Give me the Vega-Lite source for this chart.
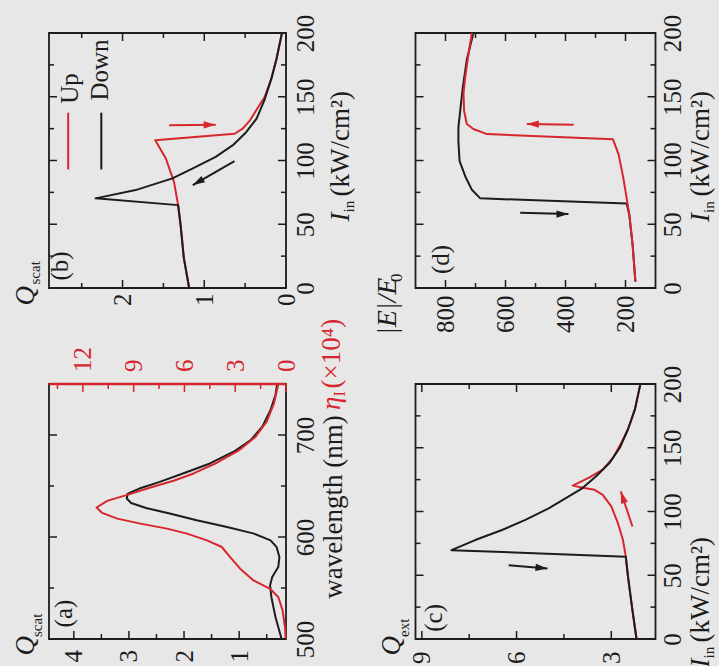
{
"$schema": "https://vega.github.io/schema/vega-lite/v6.json",
"background": "#e7e7e7",
"padding": {"left": 10, "top": 13, "right": 4, "bottom": 0},
"config": {
 "view": {"stroke": "#1c1c1c", "strokeWidth": 1.8},
 "axis": {"grid": false, "domain": false, "ticks": false, "labelFont": "Liberation Serif", "labelFontSize": 25, "labelColor": "#1c1c1c", "labelOverlap": false, "labelFlush": false, "labelBound": false, "titleFont": "Liberation Serif", "titleFontSize": 27, "titleFontWeight": "normal", "titleColor": "#1c1c1c", "titleAngle": -90, "titleAlign": "left", "titleBaseline": "alphabetic", "titlePadding": 0, "labelAngle": -90},
 "point": {"opacity": 1},
 "text": {"font": "Liberation Serif"}
},
"datasets": {
 "t_I": [{"v":0,"c":"maj"},{"v":25,"c":"min"},{"v":50,"c":"maj"},{"v":75,"c":"min"},{"v":100,"c":"maj"},{"v":125,"c":"min"},{"v":150,"c":"maj"},{"v":175,"c":"min"},{"v":200,"c":"maj"}],
 "b_tq": [{"v":0,"c":"maj"},{"v":0.5,"c":"min"},{"v":1,"c":"maj"},{"v":1.5,"c":"min"},{"v":2,"c":"maj"},{"v":2.5,"c":"min"}],
 "d_tE": [{"v":200,"c":"maj"},{"v":300,"c":"min"},{"v":400,"c":"maj"},{"v":500,"c":"min"},{"v":600,"c":"maj"},{"v":700,"c":"min"},{"v":800,"c":"maj"}],
 "a_tq": [{"v":0.5,"c":"min"},{"v":1,"c":"maj"},{"v":1.5,"c":"min"},{"v":2,"c":"maj"},{"v":2.5,"c":"min"},{"v":3,"c":"maj"},{"v":3.5,"c":"min"},{"v":4,"c":"maj"}],
 "a_tl": [{"v":500,"c":"maj"},{"v":550,"c":"min"},{"v":600,"c":"maj"},{"v":650,"c":"min"},{"v":700,"c":"maj"},{"v":750,"c":"min"}],
 "a_te": [{"v":0,"c":"maj"},{"v":1.5,"c":"min"},{"v":3,"c":"maj"},{"v":4.5,"c":"min"},{"v":6,"c":"maj"},{"v":7.5,"c":"min"},{"v":9,"c":"maj"},{"v":10.5,"c":"min"},{"v":12,"c":"maj"},{"v":13.5,"c":"min"}],
 "c_tq": [{"v":3,"c":"maj"},{"v":4.5,"c":"min"},{"v":6,"c":"maj"},{"v":7.5,"c":"min"},{"v":9,"c":"maj"}],
 "b_curves": [
  {"s":"Up","k":1,"Q":1.185,"I":0},{"s":"Up","k":2,"Q":1.25,"I":23.4},{"s":"Up","k":3,"Q":1.29,"I":49.5},{"s":"Up","k":4,"Q":1.32,"I":65},{"s":"Up","k":5,"Q":1.37,"I":83},{"s":"Up","k":6,"Q":1.47,"I":101.6},{"s":"Up","k":7,"Q":1.6,"I":115.9},{"s":"Up","k":8,"Q":0.63,"I":121},{"s":"Up","k":9,"Q":0.53,"I":125},{"s":"Up","k":10,"Q":0.44,"I":131.5},{"s":"Up","k":11,"Q":0.33,"I":143},{"s":"Up","k":12,"Q":0.26,"I":150},{"s":"Up","k":13,"Q":0.18,"I":164},{"s":"Up","k":14,"Q":0.115,"I":180},{"s":"Up","k":15,"Q":0.066,"I":195},{"s":"Up","k":16,"Q":0.05,"I":200},
  {"s":"Down","k":1,"Q":1.185,"I":0},{"s":"Down","k":2,"Q":1.25,"I":23.4},{"s":"Down","k":3,"Q":1.29,"I":49.5},{"s":"Down","k":4,"Q":1.32,"I":65},{"s":"Down","k":5,"Q":2.33,"I":70.3},{"s":"Down","k":6,"Q":1.84,"I":76.8},{"s":"Down","k":7,"Q":1.39,"I":86},{"s":"Down","k":8,"Q":1.14,"I":93.8},{"s":"Down","k":9,"Q":0.86,"I":102.9},{"s":"Down","k":10,"Q":0.65,"I":112},{"s":"Down","k":11,"Q":0.49,"I":122},{"s":"Down","k":12,"Q":0.36,"I":132.8},{"s":"Down","k":13,"Q":0.26,"I":148},{"s":"Down","k":14,"Q":0.18,"I":164},{"s":"Down","k":15,"Q":0.115,"I":180},{"s":"Down","k":16,"Q":0.066,"I":195},{"s":"Down","k":17,"Q":0.05,"I":200}
 ],
 "b_ann": [
  {"s":"Up","g":"leg","k":1,"Q":2.665,"I":93},{"s":"Up","g":"leg","k":2,"Q":2.665,"I":137.5},
  {"s":"Down","g":"leg","k":1,"Q":2.26,"I":93},{"s":"Down","g":"leg","k":2,"Q":2.26,"I":137.5},
  {"s":"Up","g":"shaft","k":1,"Q":1.43,"I":127.6},{"s":"Up","g":"shaft","k":2,"Q":0.86,"I":128},
  {"s":"Down","g":"shaft","k":1,"Q":0.63,"I":99.5},{"s":"Down","g":"shaft","k":2,"Q":1.14,"I":80.7}
 ],
 "b_txt": [{"t":"(b)","Q":2.76,"I":17.3},{"t":"Up","Q":2.649,"I":156.5},{"t":"Down","Q":2.27,"I":171}],
 "d_curves": [
  {"s":"Down","k":1,"E":167,"I":5},{"s":"Down","k":2,"E":176,"I":33},{"s":"Down","k":3,"E":187,"I":57},{"s":"Down","k":4,"E":196,"I":66.3},{"s":"Down","k":5,"E":684,"I":70.3},{"s":"Down","k":6,"E":712,"I":77},{"s":"Down","k":7,"E":734,"I":87.5},{"s":"Down","k":8,"E":753,"I":99.5},{"s":"Down","k":9,"E":757,"I":115},{"s":"Down","k":10,"E":757,"I":126},{"s":"Down","k":11,"E":751,"I":139},{"s":"Down","k":12,"E":742,"I":158},{"s":"Down","k":13,"E":729,"I":179},{"s":"Down","k":14,"E":707,"I":200},
  {"s":"Up","k":1,"E":167,"I":5},{"s":"Up","k":2,"E":176,"I":33},{"s":"Up","k":3,"E":187,"I":57},{"s":"Up","k":4,"E":193,"I":66},{"s":"Up","k":5,"E":207,"I":86},{"s":"Up","k":6,"E":223,"I":104.8},{"s":"Up","k":7,"E":242,"I":116.7},{"s":"Up","k":8,"E":662,"I":120.7},{"s":"Up","k":9,"E":707,"I":124.7},{"s":"Up","k":10,"E":729,"I":128.6},{"s":"Up","k":11,"E":738,"I":139},{"s":"Up","k":12,"E":740,"I":152.5},{"s":"Up","k":13,"E":734,"I":166},{"s":"Up","k":14,"E":723,"I":184},{"s":"Up","k":15,"E":712,"I":200}
 ],
 "d_ann": [
  {"s":"Up","g":"shaft","k":1,"E":373,"I":128},{"s":"Up","g":"shaft","k":2,"E":529,"I":128.6},
  {"s":"Down","g":"shaft","k":1,"E":551,"I":59},{"s":"Down","g":"shaft","k":2,"E":390,"I":58}
 ],
 "d_txt": [{"t":"(d)","E":815,"I":22.4}],
 "a_q": [
  {"lam":500,"Q":0.23},{"lam":521.3,"Q":0.34},{"lam":541,"Q":0.415},{"lam":552.5,"Q":0.44},{"lam":560.7,"Q":0.4},{"lam":570.5,"Q":0.29},{"lam":580.3,"Q":0.27},{"lam":590,"Q":0.32},{"lam":596.7,"Q":0.43},{"lam":603.3,"Q":0.73},{"lam":609.8,"Q":1.22},{"lam":616.4,"Q":1.77},{"lam":623,"Q":2.26},{"lam":628.5,"Q":2.69},{"lam":633.4,"Q":2.96},{"lam":637.7,"Q":3.04},{"lam":642.6,"Q":3.02},{"lam":647.5,"Q":2.81},{"lam":654,"Q":2.44},{"lam":662.3,"Q":2.02},{"lam":672.1,"Q":1.53},{"lam":683.6,"Q":1.1},{"lam":695,"Q":0.79},{"lam":708.2,"Q":0.58},{"lam":724.6,"Q":0.43},{"lam":739.3,"Q":0.34},{"lam":750,"Q":0.31}
 ],
 "a_eta": [
  {"lam":500,"eta":0.02},{"lam":511.5,"eta":0.06},{"lam":527.9,"eta":0.2},{"lam":541,"eta":0.45},{"lam":549.2,"eta":0.94},{"lam":557.4,"eta":1.92},{"lam":568.9,"eta":2.71},{"lam":580.3,"eta":3.3},{"lam":590.2,"eta":3.79},{"lam":596.7,"eta":4.67},{"lam":603.3,"eta":5.85},{"lam":608.2,"eta":7.03},{"lam":613.1,"eta":8.6},{"lam":618,"eta":9.97},{"lam":623.6,"eta":10.86},{"lam":628.9,"eta":11.19},{"lam":635.4,"eta":10.56},{"lam":642,"eta":9.23},{"lam":648.5,"eta":8.01},{"lam":655.1,"eta":6.64},{"lam":662.3,"eta":5.46},{"lam":672.8,"eta":4.08},{"lam":684.6,"eta":2.81},{"lam":697.7,"eta":1.83},{"lam":713.1,"eta":1.14},{"lam":731.1,"eta":0.71},{"lam":750,"eta":0.45}
 ],
 "a_txt": [{"t":"(a)","Q":4.18,"lam":525}],
 "c_curves": [
  {"s":"Up","k":1,"Q":2.2,"I":0},{"s":"Up","k":2,"Q":2.33,"I":22.4},{"s":"Up","k":3,"Q":2.47,"I":48.7},{"s":"Up","k":4,"Q":2.54,"I":64.5},{"s":"Up","k":5,"Q":2.63,"I":77.6},{"s":"Up","k":6,"Q":2.79,"I":90.8},{"s":"Up","k":7,"Q":3.0,"I":104},{"s":"Up","k":8,"Q":3.27,"I":113},{"s":"Up","k":9,"Q":3.53,"I":117},{"s":"Up","k":10,"Q":3.85,"I":118.4},{"s":"Up","k":11,"Q":4.22,"I":120.3},{"s":"Up","k":12,"Q":3.69,"I":126.8},{"s":"Up","k":13,"Q":3.27,"I":132.9},{"s":"Up","k":14,"Q":2.95,"I":142},{"s":"Up","k":15,"Q":2.68,"I":154},{"s":"Up","k":16,"Q":2.47,"I":164.5},{"s":"Up","k":17,"Q":2.25,"I":180.3},{"s":"Up","k":18,"Q":2.09,"I":198.7},{"s":"Up","k":19,"Q":2.08,"I":200},
  {"s":"Down","k":1,"Q":2.2,"I":0},{"s":"Down","k":2,"Q":2.33,"I":22.4},{"s":"Down","k":3,"Q":2.47,"I":48.7},{"s":"Down","k":4,"Q":2.54,"I":64.5},{"s":"Down","k":5,"Q":8.06,"I":69.7},{"s":"Down","k":6,"Q":7.31,"I":77.6},{"s":"Down","k":7,"Q":6.46,"I":85.5},{"s":"Down","k":8,"Q":5.72,"I":93.4},{"s":"Down","k":9,"Q":4.97,"I":102.6},{"s":"Down","k":10,"Q":4.44,"I":110.5},{"s":"Down","k":11,"Q":3.91,"I":118.4},{"s":"Down","k":12,"Q":3.48,"I":127.6},{"s":"Down","k":13,"Q":3.05,"I":138.2},{"s":"Down","k":14,"Q":2.73,"I":150},{"s":"Down","k":15,"Q":2.47,"I":164.5},{"s":"Down","k":16,"Q":2.25,"I":180.3},{"s":"Down","k":17,"Q":2.09,"I":198.7},{"s":"Down","k":18,"Q":2.08,"I":200}
 ],
 "c_ann": [
  {"s":"Down","g":"shaft","k":1,"Q":6.25,"I":57.9},{"s":"Down","g":"shaft","k":2,"Q":5.02,"I":55.3},
  {"s":"Up","g":"shaft","k":1,"Q":2.33,"I":88.2},{"s":"Up","g":"shaft","k":2,"Q":2.7,"I":115.8}
 ],
 "c_txt": [{"t":"(c)","Q":8.63,"I":16.6}]
},
"columns": 2,
"spacing": {"row": 96, "column": 129.5},
"bounds": "flush",
"concat": [
 {
  "width": 237, "height": 255,
  "layer": [
   {"data": {"name": "b_curves"},
    "mark": {"type": "line", "strokeWidth": 2, "strokeJoin": "round"},
    "encoding": {
     "x": {"field": "Q", "type": "quantitative", "scale": {"domain": [0, 2.9], "reverse": true, "nice": false, "zero": false},
       "axis": {"orient": "bottom", "values": [0, 1, 2], "labelExpr": "'' + datum.value", "labelAngle": -90, "labelAlign": "right", "labelBaseline": "middle", "labelPadding": 5, "title": "Q", "titleFontStyle": "italic", "titleX": -16, "titleY": 17}},
     "y": {"field": "I", "type": "quantitative", "scale": {"domain": [0, 200], "nice": false, "zero": false},
       "axis": {"orient": "right", "values": [0, 50, 100, 150, 200], "labelExpr": "'' + datum.value", "labelAngle": -90, "labelAlign": "center", "labelBaseline": "alphabetic", "labelPadding": 27, "title": "I", "titleFontStyle": "italic", "titleX": 62.5, "titleY": 188}},
     "color": {"field": "s", "type": "nominal", "scale": {"domain": ["Up", "Down"], "range": ["#d7262d", "#1c1c1c"]}, "legend": null},
     "order": {"field": "k", "type": "quantitative"}
    }},
   {"data": {"name": "b_ann"},
    "mark": {"type": "line", "strokeWidth": 2},
    "encoding": {
     "x": {"field": "Q", "type": "quantitative",
       "axis": {"orient": "top", "labels": false, "title": "scat", "titleFontSize": 15, "titleX": -9.5, "titleY": 251}},
     "y": {"field": "I", "type": "quantitative",
       "axis": {"orient": "left", "labels": false, "title": "(kW/cm²)", "titleX": 299.5, "titleY": 163}},
     "color": {"field": "s", "type": "nominal", "scale": {"domain": ["Up", "Down"], "range": ["#d7262d", "#1c1c1c"]}, "legend": null},
     "detail": {"field": "g", "type": "nominal"},
     "order": {"field": "k", "type": "quantitative"}
    }},
   {"data": {"name": "b_txt"},
    "mark": {"type": "text", "angle": 270, "fontSize": 25, "color": "#1c1c1c", "align": "center", "baseline": "middle"},
    "encoding": {
     "x": {"field": "Q", "type": "quantitative", "axis": {"orient": "bottom", "labels": false, "title": "in", "titleFontSize": 15, "titleX": 304, "titleY": -76}},
     "y": {"field": "I", "type": "quantitative", "axis": null},
     "text": {"field": "t"}
    }},
   {"data": {"name": "b_ann"}, "transform": [{"filter": "datum.g == 'shaft' && datum.k == 2 && datum.s == 'Up'"}],
    "mark": {"type": "point", "shape": "M0,0L-2,-0.6L-2,0.6Z", "filled": true, "angle": 0, "size": 144, "color": "#d7262d"},
    "encoding": {"x": {"field": "Q", "type": "quantitative", "axis": null}, "y": {"field": "I", "type": "quantitative", "axis": null}}},
   {"data": {"name": "b_ann"}, "transform": [{"filter": "datum.g == 'shaft' && datum.k == 2 && datum.s == 'Down'"}],
    "mark": {"type": "point", "shape": "M0,0L-2,-0.6L-2,0.6Z", "filled": true, "angle": 150, "size": 144, "color": "#1c1c1c"},
    "encoding": {"x": {"field": "Q", "type": "quantitative", "axis": null}, "y": {"field": "I", "type": "quantitative", "axis": null}}},
   {"data": {"name": "b_tq"}, "mark": {"type": "point", "shape": "M0,0L0,-1", "filled": false, "strokeWidth": 1.5, "color": "#1c1c1c"},
    "encoding": {"x": {"field": "v", "type": "quantitative", "axis": null}, "y": {"datum": 0, "type": "quantitative", "axis": null},
     "size": {"field": "c", "type": "ordinal", "scale": {"type": "ordinal", "domain": ["maj", "min"], "range": [256, 100]}, "legend": null}}},
   {"data": {"name": "b_tq"}, "mark": {"type": "point", "shape": "M0,0L0,1", "filled": false, "strokeWidth": 1.5, "color": "#1c1c1c"},
    "encoding": {"x": {"field": "v", "type": "quantitative", "axis": null}, "y": {"datum": 200, "type": "quantitative", "axis": null},
     "size": {"field": "c", "type": "ordinal", "scale": {"type": "ordinal", "domain": ["maj", "min"], "range": [256, 100]}, "legend": null}}},
   {"data": {"name": "t_I"}, "mark": {"type": "point", "shape": "M0,0L1,0", "filled": false, "strokeWidth": 1.5, "color": "#1c1c1c"},
    "encoding": {"y": {"field": "v", "type": "quantitative", "axis": null}, "x": {"datum": 2.9, "type": "quantitative", "axis": null},
     "size": {"field": "c", "type": "ordinal", "scale": {"type": "ordinal", "domain": ["maj", "min"], "range": [256, 100]}, "legend": null}}},
   {"data": {"name": "t_I"}, "mark": {"type": "point", "shape": "M0,0L-1,0", "filled": false, "strokeWidth": 1.5, "color": "#1c1c1c"},
    "encoding": {"y": {"field": "v", "type": "quantitative", "axis": null}, "x": {"datum": 0, "type": "quantitative", "axis": null},
     "size": {"field": "c", "type": "ordinal", "scale": {"type": "ordinal", "domain": ["maj", "min"], "range": [256, 100]}, "legend": null}}}
  ],
  "resolve": {"axis": {"x": "independent", "y": "independent"}}
 },
 {
  "width": 240, "height": 255,
  "layer": [
   {"data": {"name": "d_curves"},
    "mark": {"type": "line", "strokeWidth": 2, "strokeJoin": "round"},
    "encoding": {
     "x": {"field": "E", "type": "quantitative", "scale": {"domain": [100, 900], "reverse": true, "nice": false, "zero": false},
       "axis": {"orient": "bottom", "values": [200, 400, 600, 800], "labelExpr": "'' + datum.value", "labelAngle": -90, "labelAlign": "right", "labelBaseline": "middle", "labelPadding": 7, "title": "|E|/E", "titleFontStyle": "italic", "titleFontSize": 28, "titleX": -20, "titleY": 46.5}},
     "y": {"field": "I", "type": "quantitative", "scale": {"domain": [0, 200], "nice": false, "zero": false},
       "axis": {"orient": "right", "values": [0, 50, 100, 150, 200], "labelExpr": "'' + datum.value", "labelAngle": -90, "labelAlign": "center", "labelBaseline": "alphabetic", "labelPadding": 25, "title": "I", "titleFontStyle": "italic", "titleX": 53, "titleY": 188.5}},
     "color": {"field": "s", "type": "nominal", "scale": {"domain": ["Up", "Down"], "range": ["#d7262d", "#1c1c1c"]}, "legend": null},
     "order": {"field": "k", "type": "quantitative"}
    }},
   {"data": {"name": "d_ann"},
    "mark": {"type": "line", "strokeWidth": 2},
    "encoding": {
     "x": {"field": "E", "type": "quantitative",
       "axis": {"orient": "top", "labels": false, "title": "0", "titleFontSize": 17, "titleX": -14, "titleY": 248.5}},
     "y": {"field": "I", "type": "quantitative",
       "axis": {"orient": "left", "labels": false, "title": "(kW/cm²)", "titleX": 293, "titleY": 163}},
     "color": {"field": "s", "type": "nominal", "scale": {"domain": ["Up", "Down"], "range": ["#d7262d", "#1c1c1c"]}, "legend": null},
     "detail": {"field": "g", "type": "nominal"},
     "order": {"field": "k", "type": "quantitative"}
    }},
   {"data": {"name": "d_txt"},
    "mark": {"type": "text", "angle": 270, "fontSize": 25, "color": "#1c1c1c", "align": "center", "baseline": "middle"},
    "encoding": {
     "x": {"field": "E", "type": "quantitative", "axis": {"orient": "bottom", "labels": false, "title": "in", "titleFontSize": 15, "titleX": 298, "titleY": -75.5}},
     "y": {"field": "I", "type": "quantitative", "axis": null},
     "text": {"field": "t"}
    }},
   {"data": {"name": "d_ann"}, "transform": [{"filter": "datum.k == 2 && datum.s == 'Up'"}],
    "mark": {"type": "point", "shape": "M0,0L-2,-0.6L-2,0.6Z", "filled": true, "angle": 180, "size": 144, "color": "#d7262d"},
    "encoding": {"x": {"field": "E", "type": "quantitative", "axis": null}, "y": {"field": "I", "type": "quantitative", "axis": null}}},
   {"data": {"name": "d_ann"}, "transform": [{"filter": "datum.k == 2 && datum.s == 'Down'"}],
    "mark": {"type": "point", "shape": "M0,0L-2,-0.6L-2,0.6Z", "filled": true, "angle": 0, "size": 144, "color": "#1c1c1c"},
    "encoding": {"x": {"field": "E", "type": "quantitative", "axis": null}, "y": {"field": "I", "type": "quantitative", "axis": null}}},
   {"data": {"name": "d_tE"}, "mark": {"type": "point", "shape": "M0,0L0,-1", "filled": false, "strokeWidth": 1.5, "color": "#1c1c1c"},
    "encoding": {"x": {"field": "v", "type": "quantitative", "axis": null}, "y": {"datum": 0, "type": "quantitative", "axis": null},
     "size": {"field": "c", "type": "ordinal", "scale": {"type": "ordinal", "domain": ["maj", "min"], "range": [256, 100]}, "legend": null}}},
   {"data": {"name": "d_tE"}, "mark": {"type": "point", "shape": "M0,0L0,1", "filled": false, "strokeWidth": 1.5, "color": "#1c1c1c"},
    "encoding": {"x": {"field": "v", "type": "quantitative", "axis": null}, "y": {"datum": 200, "type": "quantitative", "axis": null},
     "size": {"field": "c", "type": "ordinal", "scale": {"type": "ordinal", "domain": ["maj", "min"], "range": [256, 100]}, "legend": null}}},
   {"data": {"name": "t_I"}, "mark": {"type": "point", "shape": "M0,0L1,0", "filled": false, "strokeWidth": 1.5, "color": "#1c1c1c"},
    "encoding": {"y": {"field": "v", "type": "quantitative", "axis": null}, "x": {"datum": 900, "type": "quantitative", "axis": null},
     "size": {"field": "c", "type": "ordinal", "scale": {"type": "ordinal", "domain": ["maj", "min"], "range": [256, 100]}, "legend": null}}},
   {"data": {"name": "t_I"}, "mark": {"type": "point", "shape": "M0,0L-1,0", "filled": false, "strokeWidth": 1.5, "color": "#1c1c1c"},
    "encoding": {"y": {"field": "v", "type": "quantitative", "axis": null}, "x": {"datum": 100, "type": "quantitative", "axis": null},
     "size": {"field": "c", "type": "ordinal", "scale": {"type": "ordinal", "domain": ["maj", "min"], "range": [256, 100]}, "legend": null}}}
  ],
  "resolve": {"axis": {"x": "independent", "y": "independent"}}
 },
 {
  "width": 237, "height": 255,
  "layer": [
   {"data": {"name": "a_q"},
    "mark": {"type": "line", "strokeWidth": 2, "strokeJoin": "round", "color": "#1c1c1c"},
    "encoding": {
     "x": {"field": "Q", "type": "quantitative", "scale": {"domain": [0.15, 4.45], "reverse": true, "nice": false, "zero": false},
       "axis": {"orient": "bottom", "values": [1, 2, 3, 4], "labelExpr": "'' + datum.value", "labelAngle": -90, "labelAlign": "right", "labelBaseline": "middle", "labelPadding": 10.5, "title": "Q", "titleFontStyle": "italic", "titleX": -16, "titleY": 16}},
     "y": {"field": "lam", "type": "quantitative", "scale": {"domain": [500, 750], "nice": false, "zero": false},
       "axis": {"orient": "right", "values": [500, 600, 700], "labelExpr": "'' + datum.value", "labelAngle": -90, "labelAlign": "center", "labelBaseline": "alphabetic", "labelPadding": 27.5, "title": "wavelength (nm)", "titleAlign": "center", "titleX": 55.5, "titleY": 122.5}},
     "order": {"field": "lam", "type": "quantitative"}
    }},
   {"data": {"name": "a_eta"},
    "mark": {"type": "line", "strokeWidth": 2, "strokeJoin": "round", "color": "#d7262d"},
    "encoding": {
     "x": {"field": "eta", "type": "quantitative", "scale": {"domain": [0, 14], "reverse": true, "nice": false, "zero": false},
       "axis": {"orient": "top", "values": [0, 3, 6, 9, 12], "labelExpr": "'' + datum.value", "labelAngle": -90, "labelAlign": "left", "labelBaseline": "middle", "labelPadding": 12.5, "labelColor": "#d7262d", "title": "η", "titleColor": "#d7262d", "titleFontStyle": "italic", "titleX": 290.5, "titleY": 25.5}},
     "y": {"field": "lam", "type": "quantitative",
       "axis": {"orient": "left", "labels": false, "title": "(×10⁴)", "titleColor": "#d7262d", "titleX": 290.5, "titleY": 4}},
     "order": {"field": "lam", "type": "quantitative"}
    }},
   {"data": {"name": "a_txt"},
    "mark": {"type": "text", "angle": 270, "fontSize": 25, "color": "#1c1c1c", "align": "center", "baseline": "middle"},
    "encoding": {
     "x": {"field": "Q", "type": "quantitative", "scale": {"domain": [0.15, 4.45], "reverse": true, "nice": false, "zero": false},
       "axis": {"orient": "bottom", "labels": false, "title": "scat", "titleFontSize": 15, "titleX": -7.5, "titleY": -2.5}},
     "y": {"field": "lam", "type": "quantitative",
       "axis": {"orient": "left", "labels": false, "title": "I", "titleColor": "#d7262d", "titleFontSize": 16, "titleX": 295.5, "titleY": 12}},
     "text": {"field": "t"}
    }},
   {"data": {"name": "a_tq"}, "mark": {"type": "point", "shape": "M0,0L0,-1", "filled": false, "strokeWidth": 1.5, "color": "#1c1c1c"},
    "encoding": {"x": {"field": "v", "type": "quantitative", "scale": {"domain": [0.15, 4.45], "reverse": true, "nice": false, "zero": false}, "axis": null}, "y": {"datum": 500, "type": "quantitative", "axis": null},
     "size": {"field": "c", "type": "ordinal", "scale": {"type": "ordinal", "domain": ["maj", "min"], "range": [256, 100]}, "legend": null}}},
   {"data": {"name": "a_te"}, "mark": {"type": "point", "shape": "M0,0L0,1", "filled": false, "strokeWidth": 1.5, "color": "#d7262d"},
    "encoding": {"x": {"field": "v", "type": "quantitative", "scale": {"domain": [0, 14], "reverse": true, "nice": false, "zero": false}, "axis": null}, "y": {"datum": 750, "type": "quantitative", "axis": null},
     "size": {"field": "c", "type": "ordinal", "scale": {"type": "ordinal", "domain": ["maj", "min"], "range": [256, 100]}, "legend": null}}},
   {"data": {"name": "a_tl"}, "mark": {"type": "point", "shape": "M0,0L1,0", "filled": false, "strokeWidth": 1.5, "color": "#1c1c1c"},
    "encoding": {"y": {"field": "v", "type": "quantitative", "axis": null}, "x": {"datum": 4.45, "type": "quantitative", "scale": {"domain": [0.15, 4.45], "reverse": true, "nice": false, "zero": false}, "axis": null},
     "size": {"field": "c", "type": "ordinal", "scale": {"type": "ordinal", "domain": ["maj", "min"], "range": [256, 100]}, "legend": null}}},
   {"data": {"name": "a_tl"}, "mark": {"type": "point", "shape": "M0,0L-1,0", "filled": false, "strokeWidth": 1.5, "color": "#1c1c1c"},
    "encoding": {"y": {"field": "v", "type": "quantitative", "axis": null}, "x": {"datum": 0.15, "type": "quantitative", "scale": {"domain": [0.15, 4.45], "reverse": true, "nice": false, "zero": false}, "axis": null},
     "size": {"field": "c", "type": "ordinal", "scale": {"type": "ordinal", "domain": ["maj", "min"], "range": [256, 100]}, "legend": null}}},
   {"data": {"name": "a_txt"}, "mark": {"type": "point", "shape": "M-1,0L1,0", "filled": false, "strokeWidth": 2.4, "color": "#d7262d"},
    "encoding": {"x": {"datum": 7, "type": "quantitative", "scale": {"domain": [0, 14], "reverse": true, "nice": false, "zero": false}, "axis": null}, "y": {"datum": 750, "type": "quantitative", "axis": null},
     "size": {"value": 56169}}}
  ],
  "resolve": {"scale": {"x": "independent"}, "axis": {"x": "independent", "y": "independent"}}
 },
 {
  "width": 240, "height": 255,
  "layer": [
   {"data": {"name": "c_curves"},
    "mark": {"type": "line", "strokeWidth": 2, "strokeJoin": "round"},
    "encoding": {
     "x": {"field": "Q", "type": "quantitative", "scale": {"domain": [1.6, 9.2], "reverse": true, "nice": false, "zero": false},
       "axis": {"orient": "bottom", "values": [3, 6, 9], "labelExpr": "'' + datum.value", "labelAngle": -90, "labelAlign": "right", "labelBaseline": "middle", "labelPadding": 12, "title": "Q", "titleFontStyle": "italic", "titleX": -16, "titleY": 16}},
     "y": {"field": "I", "type": "quantitative", "scale": {"domain": [0, 200], "nice": false, "zero": false},
       "axis": {"orient": "right", "values": [0, 50, 100, 150, 200], "labelExpr": "'' + datum.value", "labelAngle": -90, "labelAlign": "center", "labelBaseline": "alphabetic", "labelPadding": 25, "title": "I", "titleFontStyle": "italic", "titleX": 53, "titleY": 283}},
     "color": {"field": "s", "type": "nominal", "scale": {"domain": ["Up", "Down"], "range": ["#d7262d", "#1c1c1c"]}, "legend": null},
     "order": {"field": "k", "type": "quantitative"}
    }},
   {"data": {"name": "c_ann"},
    "mark": {"type": "line", "strokeWidth": 2},
    "encoding": {
     "x": {"field": "Q", "type": "quantitative",
       "axis": {"orient": "top", "labels": false, "title": "ext", "titleFontSize": 15, "titleX": -7.5, "titleY": 252.5}},
     "y": {"field": "I", "type": "quantitative",
       "axis": {"orient": "left", "labels": false, "title": "(kW/cm²)", "titleX": 293, "titleY": 258}},
     "color": {"field": "s", "type": "nominal", "scale": {"domain": ["Up", "Down"], "range": ["#d7262d", "#1c1c1c"]}, "legend": null},
     "detail": {"field": "g", "type": "nominal"},
     "order": {"field": "k", "type": "quantitative"}
    }},
   {"data": {"name": "c_txt"},
    "mark": {"type": "text", "angle": 270, "fontSize": 25, "color": "#1c1c1c", "align": "center", "baseline": "middle"},
    "encoding": {
     "x": {"field": "Q", "type": "quantitative", "axis": {"orient": "bottom", "labels": false, "title": "in", "titleFontSize": 15, "titleX": 298, "titleY": 19}},
     "y": {"field": "I", "type": "quantitative", "axis": null},
     "text": {"field": "t"}
    }},
   {"data": {"name": "c_ann"}, "transform": [{"filter": "datum.k == 2 && datum.s == 'Up'"}],
    "mark": {"type": "point", "shape": "M0,0L-2,-0.6L-2,0.6Z", "filled": true, "angle": 252, "size": 144, "color": "#d7262d"},
    "encoding": {"x": {"field": "Q", "type": "quantitative", "axis": null}, "y": {"field": "I", "type": "quantitative", "axis": null}}},
   {"data": {"name": "c_ann"}, "transform": [{"filter": "datum.k == 2 && datum.s == 'Down'"}],
    "mark": {"type": "point", "shape": "M0,0L-2,-0.6L-2,0.6Z", "filled": true, "angle": 5, "size": 144, "color": "#1c1c1c"},
    "encoding": {"x": {"field": "Q", "type": "quantitative", "axis": null}, "y": {"field": "I", "type": "quantitative", "axis": null}}},
   {"data": {"name": "c_tq"}, "mark": {"type": "point", "shape": "M0,0L0,-1", "filled": false, "strokeWidth": 1.5, "color": "#1c1c1c"},
    "encoding": {"x": {"field": "v", "type": "quantitative", "axis": null}, "y": {"datum": 0, "type": "quantitative", "axis": null},
     "size": {"field": "c", "type": "ordinal", "scale": {"type": "ordinal", "domain": ["maj", "min"], "range": [256, 100]}, "legend": null}}},
   {"data": {"name": "c_tq"}, "mark": {"type": "point", "shape": "M0,0L0,1", "filled": false, "strokeWidth": 1.5, "color": "#1c1c1c"},
    "encoding": {"x": {"field": "v", "type": "quantitative", "axis": null}, "y": {"datum": 200, "type": "quantitative", "axis": null},
     "size": {"field": "c", "type": "ordinal", "scale": {"type": "ordinal", "domain": ["maj", "min"], "range": [256, 100]}, "legend": null}}},
   {"data": {"name": "t_I"}, "mark": {"type": "point", "shape": "M0,0L1,0", "filled": false, "strokeWidth": 1.5, "color": "#1c1c1c"},
    "encoding": {"y": {"field": "v", "type": "quantitative", "axis": null}, "x": {"datum": 9.2, "type": "quantitative", "axis": null},
     "size": {"field": "c", "type": "ordinal", "scale": {"type": "ordinal", "domain": ["maj", "min"], "range": [256, 100]}, "legend": null}}},
   {"data": {"name": "t_I"}, "mark": {"type": "point", "shape": "M0,0L-1,0", "filled": false, "strokeWidth": 1.5, "color": "#1c1c1c"},
    "encoding": {"y": {"field": "v", "type": "quantitative", "axis": null}, "x": {"datum": 1.6, "type": "quantitative", "axis": null},
     "size": {"field": "c", "type": "ordinal", "scale": {"type": "ordinal", "domain": ["maj", "min"], "range": [256, 100]}, "legend": null}}}
  ],
  "resolve": {"axis": {"x": "independent", "y": "independent"}}
 }
]
}
